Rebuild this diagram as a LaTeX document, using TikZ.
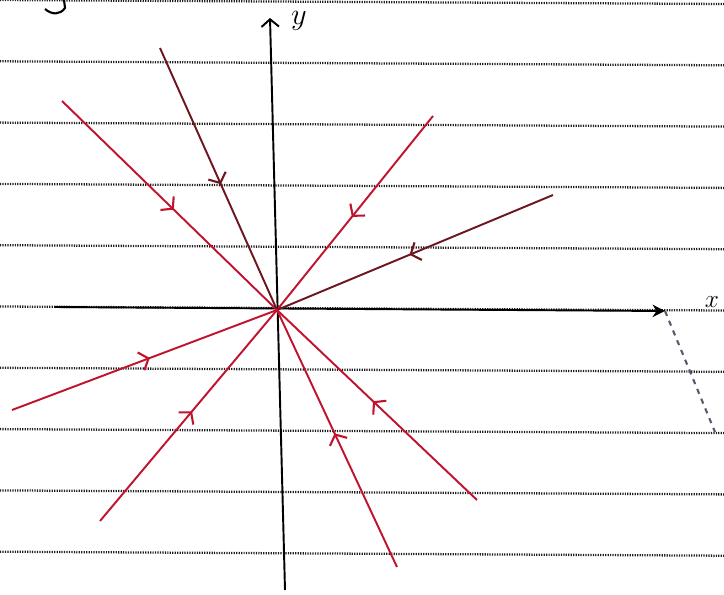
\documentclass[tikz,border=0pt]{standalone}
\usepackage{xcolor}
\usepackage{tikz}
\usetikzlibrary{arrows.meta,decorations.markings}
\definecolor{inkred}{HTML}{C0142E}
\definecolor{inkdark}{HTML}{6E1620}
\definecolor{ruleink}{HTML}{1E1E1E}
\definecolor{smudge}{HTML}{5A5A6E}

\begin{document}
\begin{tikzpicture}[x=0.02cm,y=-0.02cm,
  ruled/.style={draw=ruleink,line width=1.3pt,dash pattern=on 0.7pt off 0.7pt},
  axis/.style={draw=black,line width=1.1pt},
  traj/.style={draw=#1,line width=1.1pt,postaction={decorate},
    decoration={markings,mark=at position 0.52 with {\arrow[#1,line width=1.2pt]{Straight Barb[length=1.6mm,width=3.8mm]}}}},
  traj/.default=inkred,
  lbl/.style={inner sep=0pt,font=\LARGE}]
\useasboundingbox (0,0) rectangle (724,595);
% lined paper
\foreach \i in {0,...,9}
  \draw[ruled] (0,{\i*61.3}) -- (724,{\i*61.3+4});
% axes
\coordinate (o) at (277,310);
\coordinate (xl) at (55,307);
\coordinate (xr) at (665,311);
\coordinate (ybot) at (285,590);
\coordinate (ytop) at (270,18);
\draw[axis,-{Stealth[length=2.5mm,width=2.5mm]}] (xl) -- (xr);
\draw[axis,-{Straight Barb[length=1.5mm,width=3.5mm]}] (ybot) -- (ytop);
\node[lbl] (ylab) at (299,21) {$y$};
\node[lbl,font=\Large] (xlab) at (712,302) {$x$};
% trajectories into the node
\coordinate (ul) at (62,101);
\coordinate (uls) at (160,48);
\coordinate (ur) at (433,116);
\coordinate (rs) at (553,195);
\coordinate (lls) at (12,410);
\coordinate (ll) at (100,521);
\coordinate (lr) at (477,500);
\coordinate (lrs) at (397,567);
\draw[traj] (ul) -- (o);
\draw[traj=inkdark] (uls) -- (o);
\draw[traj] (ur) -- (o);
\draw[traj=inkdark] (rs) -- (o);
\draw[traj] (lls) -- (o);
\draw[traj] (ll) -- (o);
\draw[traj] (lr) -- (o);
\draw[traj] (lrs) -- (o);
% pen marks on the page
\draw[smudge,line width=1.2pt,dashed] (xr) -- (715,432);
\draw[black,line width=1.2pt] (45,9) .. controls (52,15) and (60,15) .. (65,8) -- (64,0);
\end{tikzpicture}
\end{document}
